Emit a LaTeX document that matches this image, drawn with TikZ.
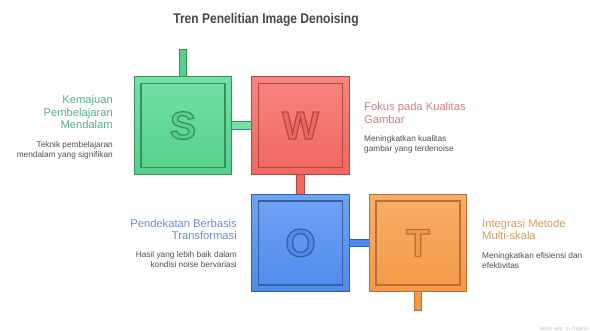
\documentclass[tikz,border=0pt]{standalone}
\usepackage{fontspec}
\setmainfont{Liberation Sans}
\newfontfamily\titlefont[FakeStretch=0.86]{Liberation Sans}
\usetikzlibrary{calc}

% box palettes: fill top, fill bottom, border, text
\definecolor{sTop}{HTML}{72E1A4}\definecolor{sBot}{HTML}{57D08A}\definecolor{sLine}{HTML}{3A8F5E}\definecolor{sText}{HTML}{56B487}
\definecolor{wTop}{HTML}{F7857F}\definecolor{wBot}{HTML}{F06760}\definecolor{wLine}{HTML}{B04844}\definecolor{wText}{HTML}{CF8383}
\definecolor{oTop}{HTML}{70A3F3}\definecolor{oBot}{HTML}{4F89EC}\definecolor{oLine}{HTML}{35609F}\definecolor{oText}{HTML}{6A8ECF}
\definecolor{tTop}{HTML}{F8AE68}\definecolor{tBot}{HTML}{F39A48}\definecolor{tLine}{HTML}{B87034}\definecolor{tText}{HTML}{D79A62}
\definecolor{descGray}{HTML}{4E4E4E}
\definecolor{titleGray}{HTML}{474747}

\tikzset{
  outerbox/.style 2 args={minimum size=97.5pt, inner sep=0pt, draw=#2, line width=0.7pt,
    top color=#1Top, bottom color=#1Bot},
  innerbox/.style={minimum size=84pt, inner sep=0pt, draw=#1, line width=1.1pt},
  stub/.style 2 args={fill=#1, draw=#2, line width=0.6pt},
  heading/.style={font=\fontsize{11.2}{12.3}\selectfont, inner sep=0pt},
  desc/.style={font=\fontsize{8.3}{10}\selectfont, text=descGray, inner sep=0pt},
  letter/.style={font=\fontsize{39}{39}\selectfont\bfseries, inner sep=0pt},
}

% outlined capital letter: filled in the box colour, stroked in the border colour
% #1 centre, #2 letter, #3 stroke colour as r g b, #4 fill colour
\newcommand\hollowletter[4]{%
  \node[letter, text=#4] (#1L) at (#1)
    {\special{pdf:literal direct 2 Tr 1.2 w #3 RG}#2\special{pdf:literal direct 0 Tr 0.4 w}};
}

\begin{document}
\begin{tikzpicture}[x=1pt, y=-1pt]
\useasboundingbox (0,0) rectangle (590,331);

% title
\node[font=\titlefont\fontsize{14}{15}\selectfont\bfseries, text=titleGray, inner sep=0pt]
  (title) at (266,20) {Tren Penelitian Image Denoising};

% free ends of the outer stubs
\coordinate (Stop) at (183,49);
\coordinate (Tbot) at (418,310);

% box centres
\coordinate (cS) at (183,125.5);
\coordinate (cW) at (300.5,125.5);
\coordinate (cO) at (300.5,243);
\coordinate (cT) at (418,243);

% connectors (drawn first so the boxes cover their ends)
\draw[stub={sBot}{sLine}] ($(cS)+(-3.7,-48)$) rectangle ($(Stop)+(3.7,0)$);
\draw[stub={sTop}{sLine}] ($(cS)+(48,-3.8)$) rectangle ($(cW)+(-48,3.8)$);
\draw[stub={wBot}{wLine}] ($(cW)+(-3.8,48)$) rectangle ($(cO)+(3.8,-48)$);
\draw[stub={oBot}{oLine}] ($(cO)+(48,-3.4)$) rectangle ($(cT)+(-48,3.4)$);
\draw[stub={tBot}{tLine}] ($(cT)+(-3.7,48)$) rectangle ($(Tbot)+(3.7,0)$);

% the four squares
\node[outerbox={s}{sLine}] (S) at (cS) {};
\node[innerbox=sLine] (Si) at (cS) {};
\node[outerbox={w}{wLine}] (W) at (cW) {};
\node[innerbox=wLine] (Wi) at (cW) {};
\node[outerbox={o}{oLine}] (O) at (cO) {};
\node[innerbox=oLine] (Oi) at (cO) {};
\node[outerbox={t}{tLine}] (T) at (cT) {};
\node[innerbox=tLine] (Ti) at (cT) {};

% captions
\node[heading, text=sText, align=right, anchor=north east] (sHead) at (113,95.5)
  {Kemajuan\\Pembelajaran\\Mendalam};
\node[desc, align=right, anchor=north east] (sDesc) at (113,141.5)
  {Teknik pembelajaran\\mendalam yang signifikan};

\node[heading, text=wText, align=left, anchor=north west] (wHead) at (364,102.5)
  {Fokus pada Kualitas\\Gambar};
\node[desc, align=left, anchor=north west] (wDesc) at (364,135)
  {Meningkatkan kualitas\\gambar yang terdenoise};

\node[heading, text=oText, align=right, anchor=north east] (oHead) at (237,219)
  {Pendekatan Berbasis\\Transformasi};
\node[desc, align=right, anchor=north east] (oDesc) at (237,251)
  {Hasil yang lebih baik dalam\\kondisi noise bervariasi};

\node[heading, text=tText, align=left, anchor=north west] (tHead) at (482,219)
  {Integrasi Metode\\Multi-skala};
\node[desc, align=left, anchor=north west] (tDesc) at (482,252)
  {Meningkatkan efisiensi dan\\efektivitas};

% credit line
\node[font=\fontsize{5}{6}\selectfont, text=black!25, inner sep=0pt, anchor=base east]
  (credit) at (588,331) {Made with \(\gg\) Napkin};

% letters last, since they change the stroke state
\hollowletter{cS}{S}{0.227 0.561 0.369}{sBot}
\hollowletter{cW}{W}{0.69 0.282 0.267}{wBot}
\hollowletter{cO}{O}{0.208 0.376 0.624}{oBot}
\hollowletter{cT}{T}{0.722 0.439 0.204}{tBot}
\end{tikzpicture}
\end{document}
